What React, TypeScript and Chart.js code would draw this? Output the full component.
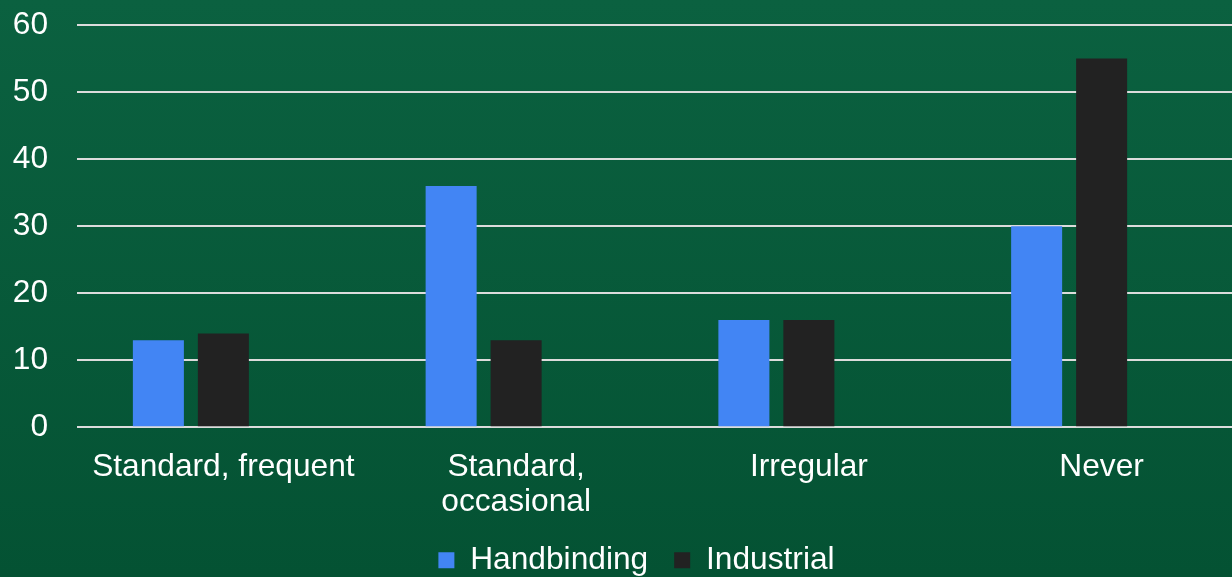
import React, { useEffect, useRef } from "react";
import { Chart, registerables } from "chart.js";

Chart.register(...registerables);

const categories: (string | string[])[] = [
  "Standard, frequent",
  ["Standard,", "occasional"],
  "Irregular",
  "Never",
];
const handbinding = [13, 36, 16, 30];
const industrial = [14, 13, 16, 55];
const emptySeries = [null, null, null, null];
const yTicks = { min: 0, max: 60, step: 10 };

const FONT = "'Liberation Sans', Arial, sans-serif";
const FS = 31.7;

const legendShift = {
  id: "legendShift",
  afterLayout(chart: any) {
    if (chart.legend) {
      chart.legend.left += 25;
    }
  },
};

export default function App() {
  const ref = useRef<HTMLCanvasElement | null>(null);

  useEffect(() => {
    if (!ref.current) return;
    const chart = new Chart(ref.current, {
      type: "bar",
      data: {
        labels: categories,
        datasets: [
          {
            label: "Handbinding",
            data: handbinding,
            backgroundColor: "#4285F4",
            categoryPercentage: 0.666,
            barPercentage: 0.785,
          },
          {
            label: "Industrial",
            data: industrial,
            backgroundColor: "#222222",
            categoryPercentage: 0.666,
            barPercentage: 0.785,
          },
          {
            label: "",
            data: emptySeries as any,
            backgroundColor: "transparent",
            categoryPercentage: 0.666,
            barPercentage: 0.785,
          },
        ],
      },
      options: {
        responsive: false,
        animation: false,
        layout: { padding: { left: 0, right: 0, top: 25, bottom: 0 } },
        plugins: {
          tooltip: { enabled: false },
          legend: {
            position: "bottom",
            labels: {
              color: "#ffffff",
              font: { family: FONT, size: FS },
              boxWidth: 16,
              boxHeight: 16,
              padding: 26,
              filter: (item) => item.text !== "",
            },
          },
        },
        scales: {
          x: {
            grid: { display: false, drawTicks: false },
            border: { display: false },
            ticks: {
              color: "#ffffff",
              font: { family: FONT, size: FS, lineHeight: 1.1 },
              padding: 23,
              maxRotation: 0,
              autoSkip: false,
            },
            afterFit: (scale: any) => {
              scale.height = 91;
            },
          },
          y: {
            min: yTicks.min,
            max: yTicks.max,
            grid: {
              color: "#dcdcdc",
              lineWidth: 2,
              drawTicks: true,
              tickLength: 29,
              tickColor: "rgba(0,0,0,0)",
            },
            border: { display: false },
            ticks: {
              stepSize: yTicks.step,
              color: "#ffffff",
              font: { family: FONT, size: FS },
              padding: 0,
            },
            afterFit: (scale: any) => {
              scale.width = 77;
            },
          },
        },
      },
      plugins: [legendShift],
    });
    return () => chart.destroy();
  }, []);

  return (
    <div
      style={{
        position: "fixed",
        left: 0,
        top: 0,
        width: 1232,
        height: 577,
        overflow: "hidden",
        background: "linear-gradient(180deg, #0b6140 0%, #045233 100%)",
      }}
    >
      <canvas
        ref={ref}
        width={1248}
        height={586}
        style={{ display: "block", width: 1248, height: 586 }}
      />
    </div>
  );
}
